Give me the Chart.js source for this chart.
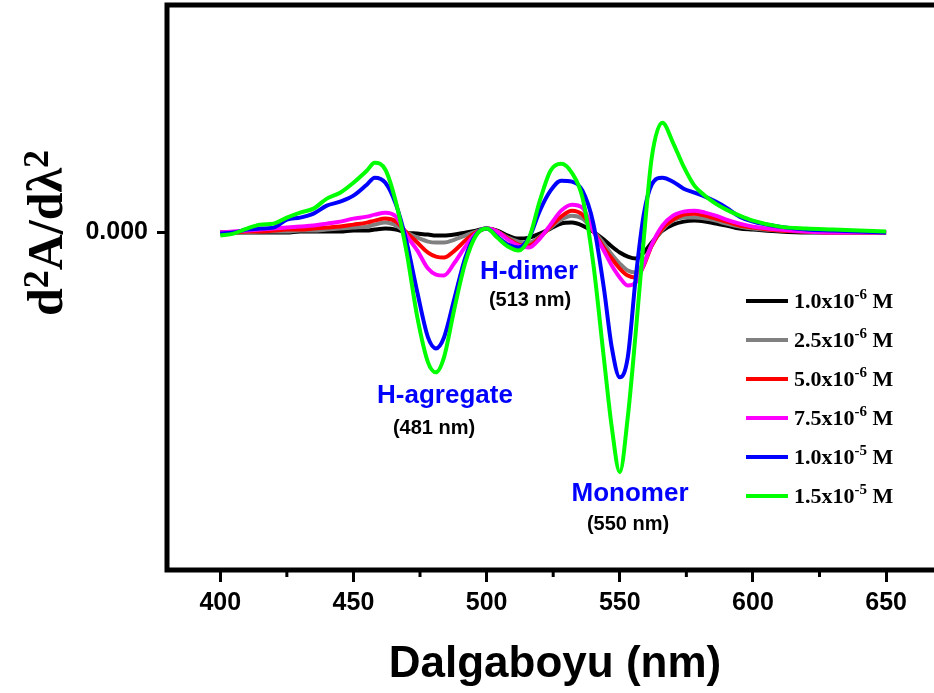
<!DOCTYPE html>
<html>
<head>
<meta charset="utf-8">
<script src="https://cdn.jsdelivr.net/npm/chart.js@4.4.1/dist/chart.umd.min.js"></script>
<style>
  html, body { margin: 0; padding: 0; background: #fff; overflow: hidden; }
  #wrap { width: 934px; height: 693px; overflow: hidden; }
</style>
</head>
<body>
<div id="wrap"><canvas id="chart"></canvas></div>
<script>
// wavelengths (nm)
const wavelengths = [400,405,410,415,420,425,430,435,440,445,450,455,
  458,462,466,470,474,478,481,484,488,492,496,500,
  504,508,512,516,520,524,528,532,536,540,
  544,547,550,553,556,559,562,566,570,574,578,582,586,590,595,600,
  610,620,630,640,650];

// second derivative, units of 1e-5
const c10e6 = [0,0,0,0,0,0,1,1,1,1,2,2,
  3,4,3,0,-1,-2,-3,-3,-2,0,2,4,
  2,-3,-6,-5,-1,4,9,10,7,1,
  -7,-14,-20,-24,-26,-20,-10,2,8,11,12,11,9,7,4,3,
  1,0,0,0,0];
const c25e6 = [0,0,0,1,1,1,2,2,3,4,5,6,
  8,10,7,0,-5,-9,-10,-10,-7,-3,1,4,
  1,-5,-9,-10,-4,5,13,17,14,2,
  -11,-22,-31,-38,-40,-30,-13,3,12,15,15,14,12,9,6,4,
  2,1,0,0,0];
const c50e6 = [0,0,1,1,2,3,3,4,5,6,8,10,
  12,14,11,0,-10,-20,-24,-25,-18,-8,0,4,
  1,-6,-12,-13,-5,6,16,22,18,2,
  -15,-26,-36,-43,-45,-33,-13,4,13,18,19,17,14,11,7,5,
  2,1,0,0,0];
const c75e6 = [0,1,2,3,4,5,6,7,9,11,14,16,
  18,20,16,-3,-18,-36,-42,-43,-30,-14,-1,4,
  1,-7,-13,-15,-6,8,22,28,25,2,
  -18,-33,-45,-53,-50,-32,-12,7,17,21,22,20,17,13,9,6,
  3,1,0,0,0];
const c10e5 = [-1,0,3,4,5,13,15,19,27,31,37,48,
  55,50,28,-10,-60,-105,-116,-105,-65,-25,-2,4,
  -4,-12,-15,-5,22,42,52,51,42,10,
  -55,-115,-145,-125,-45,18,48,55,51,44,40,36,31,25,16,11,
  6,3,2,1,0];
const c15e5 = [-3,-1,4,8,9,15,20,24,34,40,50,62,
  70,63,30,-20,-85,-130,-140,-125,-75,-30,-3,4,
  -5,-14,-18,-5,32,62,69,60,35,-30,
  -125,-195,-240,-185,-100,-7,75,110,90,66,47,37,29,23,17,12,
  6,4,3,2,1];

const seriesData = [c10e6, c25e6, c50e6, c75e6, c10e5, c15e5];
const seriesColors = ["#000000", "#808080", "#ff0000", "#ff00ff", "#0000ff", "#00ff00"];
const legendMantissa = ["1.0", "2.5", "5.0", "7.5", "1.0", "1.5"];
const legendExp = ["-6", "-6", "-6", "-6", "-5", "-5"];

const xTicks = [400, 450, 500, 550, 600, 650];
const xMinorTicks = [425, 475, 525, 575, 625];
const yTicks = [0];

// peak labels
const peakNames = ["H-agregate", "H-dimer", "Monomer"];
const peakNm = ["(481 nm)", "(513 nm)", "(550 nm)"];

const canvas = document.querySelector("#chart");
canvas.width = 1000;
canvas.height = 693;
canvas.style.width = "1000px";
canvas.style.height = "693px";
const ctx = canvas.getContext("2d");

const sans = "'Liberation Sans', Arial, sans-serif";
const serif = "'Liberation Serif', 'Times New Roman', serif";

//frame, minor ticks, titles, legend and labels
const extras = {
  id: "extras",
  afterDraw(chart) {
    const c = chart.ctx;
    const a = chart.chartArea;
    const xs = chart.scales.x;
    c.save();
    c.strokeStyle = "#000";
    c.lineWidth = 5;
    c.strokeRect(a.left, a.top, a.right - a.left, a.bottom - a.top);

    c.lineWidth = 3;
    xMinorTicks.forEach((v) => {
      const px = xs.getPixelForValue(v);
      c.beginPath();
      c.moveTo(px, a.bottom);
      c.lineTo(px, a.bottom + 7);
      c.stroke();
    });

    // x title
    c.fillStyle = "#000";
    c.font = "bold 44px " + sans;
    c.textAlign = "center";
    c.textBaseline = "alphabetic";
    c.fillText("Dalgaboyu (nm)", 555, 677);

    // y title d2A/dλ2, rotated
    c.save();
    c.translate(62, 233);
    c.rotate(-Math.PI / 2);
    const parts = [["d", 50, 0], ["2", 36, -14], ["A/d\u03bb", 50, 0], ["2", 36, -14]];
    let total = 0;
    parts.forEach((p) => {
      c.font = "bold " + p[1] + "px " + serif;
      total += c.measureText(p[0]).width;
    });
    let px = -total / 2;
    c.textAlign = "left";
    parts.forEach((p) => {
      c.font = "bold " + p[1] + "px " + serif;
      c.fillText(p[0], px, p[2]);
      px += c.measureText(p[0]).width;
    });
    c.restore();

    // legend
    seriesColors.forEach((col, i) => {
      const y = 301 + i * 39;
      c.strokeStyle = col;
      c.lineWidth = 4;
      c.beginPath();
      c.moveTo(746, y);
      c.lineTo(788, y);
      c.stroke();
      c.fillStyle = "#000";
      c.textAlign = "left";
      let tx = 794;
      c.font = "bold 22px " + serif;
      c.fillText(legendMantissa[i] + "x10", tx, y + 7);
      tx += c.measureText(legendMantissa[i] + "x10").width;
      c.font = "bold 15px " + serif;
      c.fillText(legendExp[i], tx, y - 2);
      tx += c.measureText(legendExp[i]).width;
      c.font = "bold 22px " + serif;
      c.fillText(" M", tx, y + 7);
    });

    // annotations
    const namePos = [[445, 403], [529, 279], [630, 501]];
    const nmPos = [[434, 434], [530, 306], [628, 530]];
    c.textAlign = "center";
    peakNames.forEach((t, i) => {
      c.fillStyle = "#0000ff";
      c.font = "bold 26px " + sans;
      c.fillText(t, namePos[i][0], namePos[i][1]);
      c.fillStyle = "#000";
      c.font = "bold 20px " + sans;
      c.fillText(peakNm[i], nmPos[i][0], nmPos[i][1]);
    });
    c.restore();
  },
};

let mChart = new Chart(ctx, {
  type: "line",
  data: {
    datasets: seriesData.map((s, i) => ({
      label: legendMantissa[i] + "x10" + legendExp[i] + " M",
      data: s.map((v, j) => ({ x: wavelengths[j], y: v })),
      borderColor: seriesColors[i],
      backgroundColor: seriesColors[i],
      borderWidth: 4,
      pointRadius: 0,
      cubicInterpolationMode: "monotone",
      //green on top
      order: seriesData.length - i,
    })),
  },
  options: {
    responsive: false,
    animation: false,
    devicePixelRatio: 1,
    layout: { padding: { top: 5, right: 34, bottom: 0, left: 0 } },
    plugins: { legend: { display: false }, tooltip: { enabled: false } },
    scales: {
      x: {
        type: "linear",
        min: 380,
        max: 680,
        afterBuildTicks: (axis) => {
          axis.ticks = xTicks.map((v) => ({ value: v }));
        },
        afterFit: (axis) => {
          axis.height = 123;
          axis.paddingLeft = 0;
          axis.paddingRight = 0;
        },
        grid: { drawOnChartArea: false, tickLength: 12, tickWidth: 3, tickColor: "#000" },
        border: { display: false },
        ticks: {
          color: "#000",
          padding: 6,
          maxRotation: 0,
          font: { family: sans, weight: "bold", size: 25 },
        },
      },
      y: {
        min: -338,
        max: 228,
        afterBuildTicks: (axis) => {
          axis.ticks = yTicks.map((v) => ({ value: v }));
        },
        afterFit: (axis) => {
          axis.width = 167;
          axis.paddingTop = 0;
          axis.paddingBottom = 0;
        },
        grid: { drawOnChartArea: false, tickLength: 10, tickWidth: 3, tickColor: "#000" },
        border: { display: false },
        ticks: {
          color: "#000",
          padding: 9,
          font: { family: sans, weight: "bold", size: 25 },
          callback: (value) => (value / 100000).toFixed(3),
        },
      },
    },
  },
  plugins: [extras],
});
</script>
</body>
</html>
